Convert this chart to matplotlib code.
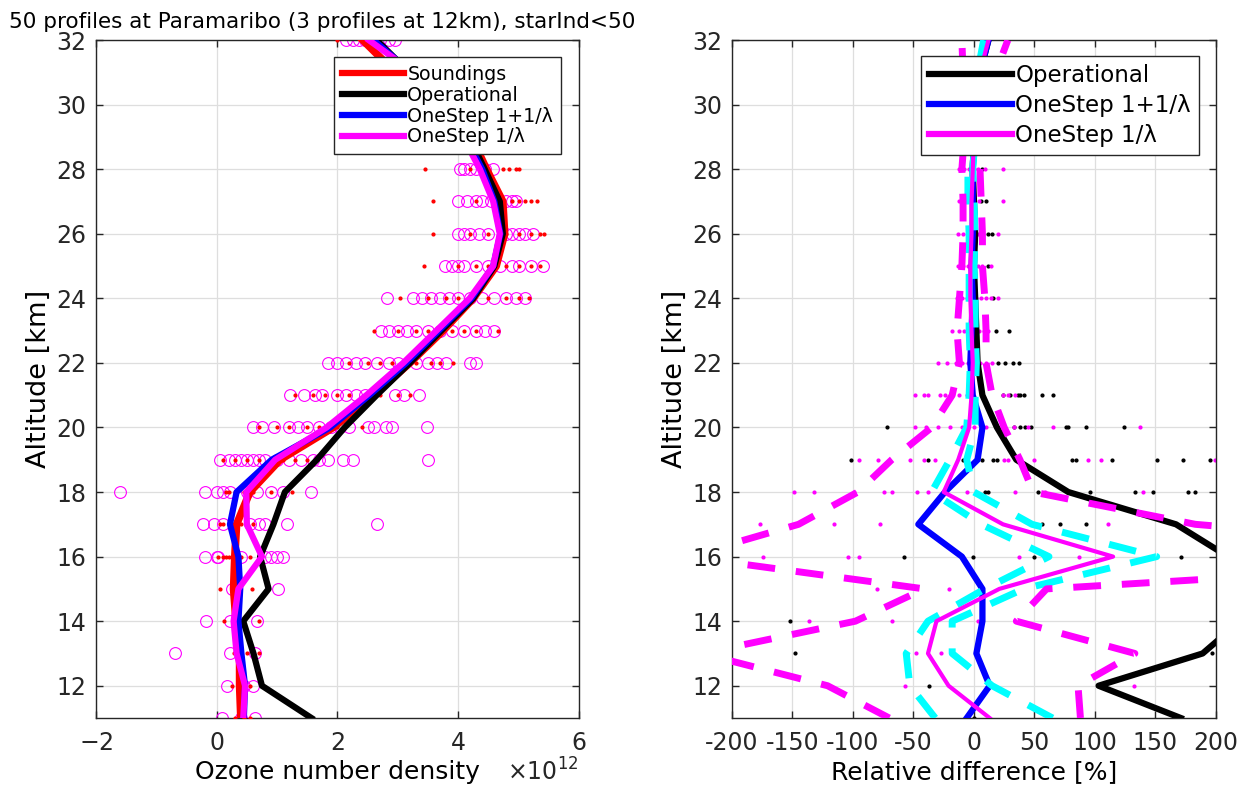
import matplotlib
matplotlib.use("Agg")
import matplotlib.pyplot as plt
from matplotlib.lines import Line2D
from matplotlib.ticker import ScalarFormatter

plt.rcParams['font.family'] = ['DejaVu Sans']
plt.rcParams['axes.unicode_minus'] = False

alt = list(range(11, 33))

# ozone number density profiles (units of 1e12)
sound_mean = [0.40, 0.38, 0.38, 0.32, 0.28, 0.30, 0.33, 0.55, 1.05, 1.93, 2.60,
              3.20, 3.75, 4.25, 4.63, 4.77, 4.74, 4.47, 4.22, 3.75, 2.96, 2.42]
oper_mean = [1.57, 0.75, 0.61, 0.44, 0.86, 0.72, 0.94, 1.13, 1.66, 2.12, 2.65,
             3.20, 3.72, 4.25, 4.60, 4.74, 4.69, 4.44, 4.18, 3.75, 3.19, 2.65]
one11_mean = [0.45, 0.47, 0.41, 0.36, 0.39, 0.36, 0.22, 0.33, 0.91, 1.88, 2.53,
              3.14, 3.68, 4.22, 4.58, 4.70, 4.60, 4.40, 4.12, 3.70, 3.22, 2.60]
one1_mean = [0.44, 0.47, 0.33, 0.28, 0.36, 0.75, 0.50, 0.49, 0.97, 1.82, 2.48,
             3.09, 3.64, 4.19, 4.58, 4.69, 4.58, 4.36, 4.08, 3.68, 3.26, 2.52]

# individual retrievals (circles) and soundings (dots) per altitude
one1_single = [
    [0.08, 0.40, 0.64],
    [0.17, 0.45, 0.61],
    [-0.69, 0.22, 0.64],
    [-0.17, 0.22, 0.66],
    [0.25, 1.02],
    [-0.19, 0.0, 0.02, 0.40, 0.80, 0.90, 1.0, 1.10],
    [-0.22, -0.05, 0.10, 0.55, 0.70, 0.80, 1.16, 2.65],
    [-1.60, -0.19, 0.0, 0.10, 0.22, 0.50, 0.66, 0.90, 1.10, 1.57],
    [0.05, 0.20, 0.30, 0.40, 0.50, 0.60, 0.70, 0.80, 1.0, 1.20, 1.40, 1.60,
     1.70, 1.85, 2.10, 2.25, 3.50],
    [0.60, 0.75, 0.95, 1.20, 1.35, 1.50, 1.70, 1.90, 2.05, 2.20, 2.50, 2.60,
     2.80, 2.90, 3.48],
    [1.22, 1.44, 1.63, 1.75, 2.0, 2.15, 2.30, 2.45, 2.95, 3.10, 3.35],
    [1.85, 2.0, 2.15, 2.30, 2.45, 2.65, 2.85, 3.0, 3.30, 3.50, 3.65, 3.80,
     4.20, 4.30],
    [2.73, 2.85, 3.0, 3.15, 3.30, 3.50, 3.70, 3.90, 4.10, 4.30, 4.45, 4.60],
    [2.82, 3.26, 3.40, 3.55, 3.70, 3.85, 4.0, 4.20, 4.40, 4.60, 4.80, 4.95,
     5.10],
    [3.78, 3.90, 4.0, 4.10, 4.30, 4.50, 4.70, 4.90, 5.0, 5.20, 5.40],
    [4.0, 4.10, 4.20, 4.35, 4.50, 4.80, 4.90, 5.0, 5.10, 5.24],
    [4.0, 4.15, 4.30, 4.40, 4.55, 4.80, 4.90, 4.96],
    [4.03, 4.10, 4.20, 4.30, 4.45, 4.58],
    [3.80, 3.90, 4.0, 4.10, 4.30, 4.50],
    [3.40, 3.50, 3.70, 3.90, 4.10],
    [2.90, 3.0, 3.20, 3.40, 3.50],
    [2.15, 2.25, 2.35, 2.45, 2.55, 2.70, 2.85, 2.95],
]
sound_single = [
    [0.30, 0.45, 0.55],
    [0.25, 0.55],
    [0.28, 0.50, 0.70],
    [0.12, 0.40, 0.70],
    [0.06, 0.28, 0.58],
    [0.03, 0.10, 0.15, 0.20, 0.40, 0.55, 0.70],
    [0.05, 0.10, 0.40, 0.50, 0.60],
    [0.15, 0.20, 0.30, 0.45, 0.60, 0.90, 1.25],
    [0.10, 0.30, 0.50, 0.70, 0.90, 1.10, 1.30, 1.50],
    [0.70, 1.0, 1.20, 1.50, 1.70, 2.0, 2.40],
    [1.30, 1.60, 1.80, 2.0, 2.20, 2.50, 2.70, 3.0, 3.20],
    [2.20, 2.50, 2.70, 2.90, 3.10, 3.30, 3.55, 3.70, 3.92],
    [2.60, 3.0, 3.30, 3.50, 3.70, 3.90, 4.10, 4.30, 4.66],
    [3.04, 3.50, 3.80, 4.0, 4.20, 4.50, 4.80, 5.0, 5.18],
    [3.44, 4.0, 4.30, 4.50, 4.80, 5.0, 5.20, 5.35],
    [3.59, 4.20, 4.50, 4.80, 5.0, 5.20, 5.35, 5.43],
    [3.58, 4.30, 4.60, 4.90, 5.0, 5.10, 5.20, 5.30],
    [3.45, 4.20, 4.50, 4.75, 4.85, 4.95, 5.0],
    [3.60, 4.10, 4.40, 4.70],
    [3.30, 3.70, 4.0, 4.30],
    [2.80, 3.20, 3.50],
    [2.0],
]

# relative differences to soundings [%]
oper_rel = [171, 103, 189, 220, 260, 210, 167, 78, 35, 19, 7,
            3, 2, 1, 0, 1, 0, -1, 0, 2, 5, 12]
one11_rel = [-6, 13, 2, 7, 7, -10, -46, -24, 3, 7, -1,
             -3, -2, -1, -2, -1, -1, -1, 0, 2, 5, 12]
one1_rel = [13, -21, -38, -31, 21, 115, 24, -25, -13, -4, -2,
            -1, -2, -3, -3, -2, -2, -1, 0, 2, 5, 12]
cyan_lo = [-32, -53, -56, -38, 9, 62, 6, -35, -20, -6, -4,
           -3, -4, -4, -4, -4, -5, -5, -3, 0, 3, 8]
cyan_hi = [65, 15, -18, -18, 41, 151, 48, 0, -6, 1, 1,
           2, 1, 1, 0, 1, 0, -1, 1, 3, 6, 12]
mag_lo = [-70, -121, -225, -98, -41, -237, -145, -96, -68, -35, -18,
          -12, -14, -12, -10, -9, -9, -10, -8, -8, -9, -10]
mag_hi = [88, 86, 133, 35, 60, 500, 183, 49, 38, 25, 15,
          10, 10, 9, 7, 7, 6, 5, 8, 12, 18, 28]

# single-profile relative differences, by altitude
rel_alt_dots = [11, 12, 13, 14, 15, 16, 17, 18, 19, 20, 21, 22, 23, 24, 25, 26, 27, 28]
oper_rel_single = [
    [0],
    [-37],
    [-148, 197],
    [-152],
    [],
    [-58, -1, 50, 171],
    [56, 71, 93, 188],
    [9, 12, 53, 96, 133, 148, 177, 183],
    [-102, -38, -9, 7, 16, 19, 81, 84, 114, 151, 173, 195],
    [-72, 33, 38, 42, 47, 76, 78, 93, 124],
    [24, 30, 36, 38, 41, 56, 65],
    [20, 26, 32, 37],
    [18, 29],
    [16],
    [12],
    [12, 15],
    [6, 10],
    [7],
]
one1_rel_single = [
    [],
    [-57, 132],
    [-48, -27],
    [-136, -68, 3],
    [-80, -21],
    [-174, -104, -95, 37, 87],
    [-177, -116, -78, 111],
    [-149, -132, -99, -74, -68, -47, -38, -6, 34, 59, 140],
    [-95, -79, -53, -41, -32, 25, 28, 50, 94, 105, 199],
    [-49, -40, -30, -20, -10, 0, 10, 20, 33, 45, 65, 137],
    [-49, -41, -38, -28, -24, -18, -12, -6, 24, 28, 34],
    [-30, -22, -15, -10, -5, 0, 5, 10, 15],
    [-18, -12, -8, -4, 0, 4, 8, 12],
    [-14, -10, -6, -2, 2, 6, 10, 14, 20],
    [-13, -9, -5, -1, 3, 7, 14],
    [-13, -9, -5, -1, 3, 7, 20],
    [-12, -8, -4, 0, 4, 24],
    [-12, -8, -4, 0, 3, 9, 24],
]

RED = '#ff0000'
MAG = '#ff00ff'
BLUE = '#0000ff'
CYAN = '#00ffff'
TICK_FS = 17
LABEL_FS = 18

fig = plt.figure(figsize=(12.59, 7.92), dpi=100)
ax1 = fig.add_axes([0.0762, 0.0934, 0.3836, 0.856])
ax2 = fig.add_axes([0.5814, 0.0934, 0.3844, 0.856])

E12 = 1e12

# left: number density
for a, vals in zip(alt, one1_single):
    ax1.plot([v * E12 for v in vals], [a] * len(vals), 'o', ms=8.5, mfc='none',
             mec=MAG, mew=0.8, zorder=2)
for a, vals in zip(alt, sound_single):
    ax1.plot([v * E12 for v in vals], [a] * len(vals), '.', ms=4, color=RED,
             zorder=3)

ax1.plot([v * E12 for v in sound_mean], alt, color=RED, lw=5.5, zorder=4)
ax1.plot([v * E12 for v in oper_mean], alt, color='k', lw=4.5, zorder=5)
ax1.plot([v * E12 for v in one11_mean], alt, color=BLUE, lw=4.5, zorder=6)
ax1.plot([v * E12 for v in one1_mean], alt, color=MAG, lw=4.5, zorder=7)

ax1.set_xlim(-2e12, 6e12)
ax1.set_xticks([v * E12 for v in (-2, 0, 2, 4, 6)])
fmt = ScalarFormatter(useMathText=True)
fmt.set_powerlimits((0, 0))
ax1.xaxis.set_major_formatter(fmt)
ax1.xaxis.get_offset_text().set_fontsize(TICK_FS)
ax1.set_xlabel('Ozone number density', fontsize=LABEL_FS, labelpad=4)
ax1.set_title('50 profiles at Paramaribo (3 profiles at 12km), starInd<50',
              fontsize=15.5, pad=9, x=0.468)

h1 = [Line2D([], [], color=c, lw=4.5) for c in (RED, 'k', BLUE, MAG)]
ax1.legend(h1, ['Soundings', 'Operational', 'OneStep 1+1/λ', 'OneStep 1/λ'],
           loc='upper right', bbox_to_anchor=(0.9625, 0.9749), fontsize=13.7,
           frameon=True, fancybox=False, edgecolor='#262626', framealpha=1,
           handlelength=3.3, handletextpad=0.15, labelspacing=0.1,
           borderpad=0.4, borderaxespad=0.0).set_zorder(20)

# right: relative difference
for a, vals in zip(rel_alt_dots, oper_rel_single):
    ax2.plot(vals, [a] * len(vals), '.', ms=4, color='k', zorder=2)
for a, vals in zip(rel_alt_dots, one1_rel_single):
    ax2.plot(vals, [a] * len(vals), '.', ms=4, color=MAG, zorder=2)

ax2.plot(oper_rel, alt, color='k', lw=4.5, zorder=3)
ax2.plot(one11_rel, alt, color=BLUE, lw=4.5, zorder=4)
for band in (cyan_lo, cyan_hi):
    ax2.plot(band, alt, color=CYAN, lw=5, ls=(0, (4, 3)), zorder=5)
for band in (mag_lo, mag_hi):
    ax2.plot(band, alt, color=MAG, lw=5, ls=(0, (4, 3)), zorder=6)
ax2.plot(one1_rel, alt, color=MAG, lw=3, zorder=7)

ax2.set_xlim(-200, 200)
ax2.set_xticks(range(-200, 201, 50))
ax2.set_xlabel('Relative difference [%]', fontsize=LABEL_FS, labelpad=4)

h2 = [Line2D([], [], color=c, lw=4.5) for c in ('k', BLUE, MAG)]
ax2.legend(h2, ['Operational', 'OneStep 1+1/λ', 'OneStep 1/λ'],
           loc='upper right', bbox_to_anchor=(0.9649, 0.9764), fontsize=16.5,
           frameon=True, fancybox=False, edgecolor='#262626', framealpha=1,
           handlelength=3.6, handletextpad=0.15, labelspacing=0.3,
           borderpad=0.35, borderaxespad=0.0).set_zorder(20)

for ax in (ax1, ax2):
    ax.set_ylim(11, 32)
    ax.set_yticks(range(12, 33, 2))
    ax.set_ylabel('Altitude [km]', fontsize=19.5, labelpad=3)
    ax.grid(True, color='#dedede', lw=0.9)
    ax.set_axisbelow(True)
    ax.tick_params(direction='in', top=True, right=True, labelsize=TICK_FS,
                   length=5, width=1, colors='#262626')
    ax.tick_params(axis='x', pad=9)
    ax.tick_params(axis='y', pad=7)
    for sp in ax.spines.values():
        sp.set_color('#262626')
        sp.set_linewidth(1.0)

fig.savefig('out.png', dpi=100, facecolor='white')
